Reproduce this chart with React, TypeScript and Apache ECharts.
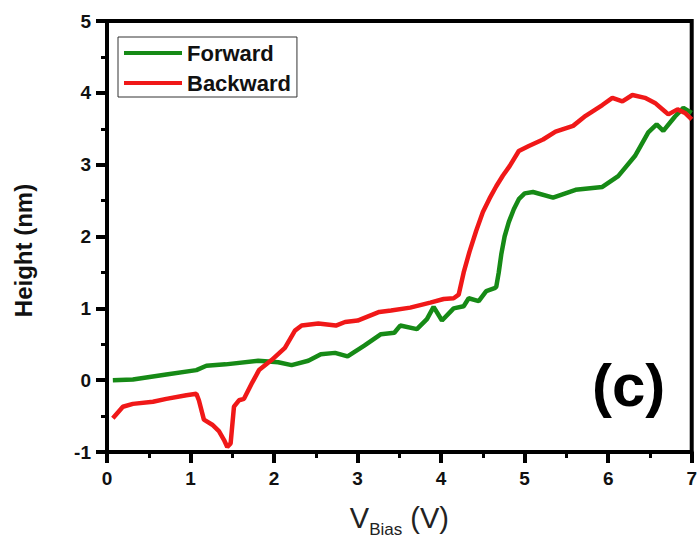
import React, { useEffect, useRef } from "react";
import * as echarts from "echarts";

const forwardX = [0.07, 0.31, 0.71, 1.07, 1.19, 1.42, 1.81, 2.05, 2.21, 2.41, 2.56, 2.73, 2.88, 3.08, 3.28, 3.44, 3.51, 3.71, 3.83, 3.91, 4.01, 4.15, 4.27, 4.33, 4.45, 4.54, 4.64, 4.66, 4.69, 4.72, 4.76, 4.81, 4.87, 4.93, 5.0, 5.1, 5.34, 5.61, 5.93, 6.12, 6.32, 6.48, 6.58, 6.66, 6.8, 6.9, 7.0];
const forwardY = [0.0, 0.01, 0.08, 0.14, 0.2, 0.22, 0.27, 0.25, 0.21, 0.27, 0.36, 0.38, 0.33, 0.48, 0.64, 0.66, 0.76, 0.71, 0.85, 1.02, 0.83, 1.0, 1.03, 1.14, 1.1, 1.24, 1.28, 1.3, 1.5, 1.75, 2.0, 2.2, 2.38, 2.52, 2.6, 2.62, 2.54, 2.65, 2.69, 2.84, 3.12, 3.45, 3.56, 3.47, 3.67, 3.79, 3.72];

const backwardX = [0.07, 0.19, 0.31, 0.55, 0.71, 0.95, 1.07, 1.1, 1.16, 1.26, 1.34, 1.4, 1.44, 1.48, 1.52, 1.58, 1.64, 1.74, 1.82, 1.97, 2.13, 2.25, 2.33, 2.53, 2.74, 2.85, 3.0, 3.26, 3.4, 3.63, 3.87, 4.03, 4.15, 4.21, 4.27, 4.34, 4.42, 4.5, 4.58, 4.66, 4.74, 4.82, 4.93, 5.05, 5.22, 5.37, 5.58, 5.73, 5.93, 6.05, 6.17, 6.29, 6.44, 6.56, 6.68, 6.72, 6.83, 6.92, 7.0];
const backwardY = [-0.53, -0.37, -0.33, -0.3, -0.26, -0.21, -0.19, -0.28, -0.55, -0.62, -0.71, -0.83, -0.93, -0.88, -0.37, -0.28, -0.26, -0.03, 0.14, 0.28, 0.45, 0.69, 0.76, 0.79, 0.76, 0.81, 0.83, 0.95, 0.97, 1.01, 1.08, 1.13, 1.14, 1.19, 1.5, 1.79, 2.08, 2.34, 2.53, 2.7, 2.85, 2.98, 3.19, 3.26, 3.35, 3.46, 3.54, 3.68, 3.83, 3.93, 3.88, 3.97, 3.93, 3.86, 3.74, 3.7, 3.77, 3.72, 3.63];

const seriesNames = ["Forward", "Backward"];
const seriesColors = ["#168a16", "#f01818"];
const panelLabel = "(c)";
const yTitle = "Height (nm)";

const FONT = "Arial, 'Liberation Sans', Helvetica, sans-serif";

const zip = (xs: number[], ys: number[]) => xs.map((x, i) => [x, ys[i]]);

export default function App() {
  const ref = useRef<HTMLDivElement>(null);
  useEffect(() => {
    if (!ref.current) return;
    const chart = echarts.init(ref.current, undefined, { renderer: "svg" });
    const axisCommon = {
      type: "value" as const,
      interval: 1,
      splitLine: { show: false },
      axisLine: { show: true, onZero: false, lineStyle: { color: "#000", width: 4 } },
      axisTick: { show: true, inside: false, length: 11, lineStyle: { color: "#000", width: 4 } },
      minorTick: { show: true, splitNumber: 2, length: 6, lineStyle: { color: "#000", width: 3 } },
      axisLabel: { color: "#111", fontFamily: FONT, fontWeight: "bold" as const, fontSize: 19 },
    };
    chart.setOption({
      animation: false,
      backgroundColor: "#fff",
      grid: { left: 107, right: 3, top: 21, bottom: 87, show: true, borderColor: "#000", borderWidth: 4 },
      legend: {
        data: seriesNames,
        orient: "vertical",
        left: 118,
        top: 37,
        padding: [5, 6, 3, 6],
        itemGap: 8,
        itemWidth: 58,
        itemHeight: 4,
        itemTextGap: 4,
        icon: "rect",
        borderColor: "#333",
        borderWidth: 1,
        backgroundColor: "#fff",
        textStyle: { color: "#111", fontFamily: FONT, fontWeight: "bold", fontSize: 22 },
      },
      xAxis: {
        ...axisCommon,
        min: 0,
        max: 7,
        axisLabel: { ...axisCommon.axisLabel, margin: 17 },
        name: "{v|V}{s|Bias}{v| (V)}",
        nameLocation: "middle",
        nameGap: 46,
        nameTextStyle: {
          rich: {
            v: { fontSize: 29, fontFamily: FONT, color: "#222", lineHeight: 40, verticalAlign: "middle" },
            s: { fontSize: 17, fontFamily: FONT, color: "#222", lineHeight: 18, verticalAlign: "bottom" },
          },
        },
      },
      yAxis: {
        ...axisCommon,
        min: -1,
        max: 5,
        axisLabel: { ...axisCommon.axisLabel, margin: 16 },
        name: yTitle,
        nameLocation: "middle",
        nameGap: 72,
        nameTextStyle: { color: "#111", fontFamily: FONT, fontWeight: "bold", fontSize: 24, padding: [0, 28, 0, 0] },
      },
      graphic: [
        {
          type: "text",
          left: 592,
          top: 355,
          style: { text: panelLabel, fill: "#000", font: `bold 60px ${FONT}` },
        },
      ],
      series: [
        {
          name: seriesNames[0],
          type: "line",
          data: zip(forwardX, forwardY),
          showSymbol: false,
          color: seriesColors[0],
          lineStyle: { width: 4.5, color: seriesColors[0] },
        },
        {
          name: seriesNames[1],
          type: "line",
          data: zip(backwardX, backwardY),
          showSymbol: false,
          color: seriesColors[1],
          lineStyle: { width: 4.5, color: seriesColors[1] },
        },
      ],
    });
    return () => chart.dispose();
  }, []);
  return <div ref={ref} style={{ position: "fixed", left: 0, top: 0, width: 700, height: 543 }} />;
}
